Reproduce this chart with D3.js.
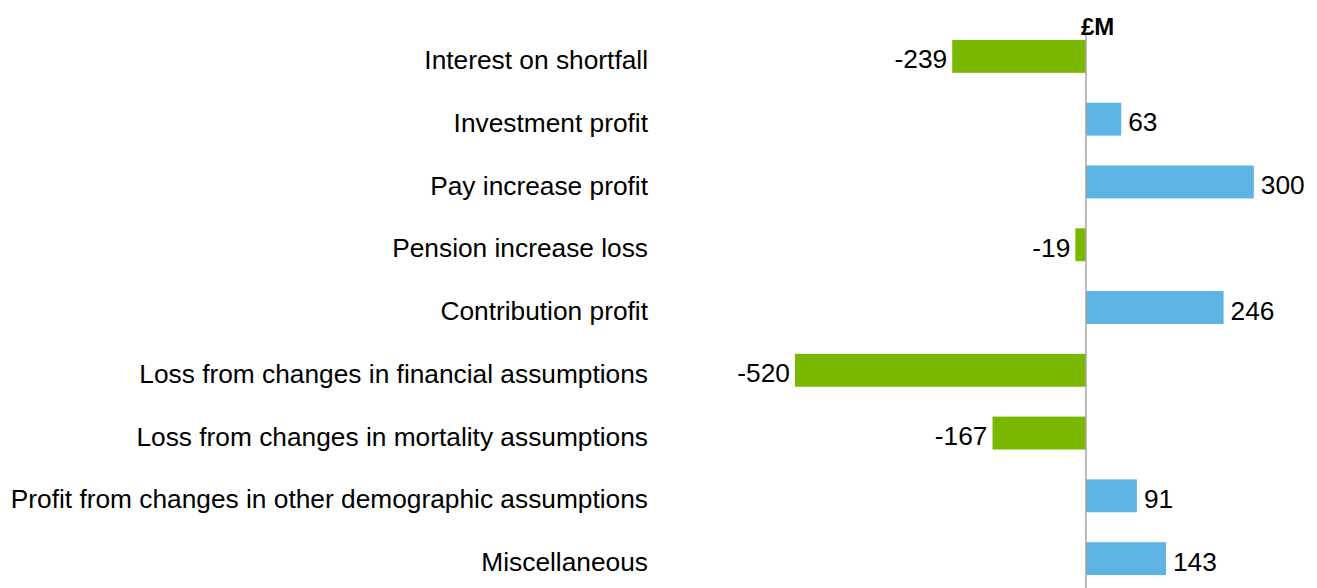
<!DOCTYPE html>
<html>
<head>
<meta charset="utf-8">
<script src="https://cdn.jsdelivr.net/npm/d3@7"></script>
<style>
  html, body { margin: 0; padding: 0; background: #fff; }
  svg { display: block; font-family: "Liberation Sans", Arial, sans-serif; }
</style>
</head>
<body>
<div id="chart"></div>
<script>
// ==== DATA ====
const CATEGORIES = [
  "Interest on shortfall",
  "Investment profit",
  "Pay increase profit",
  "Pension increase loss",
  "Contribution profit",
  "Loss from changes in financial assumptions",
  "Loss from changes in mortality assumptions",
  "Profit from changes in other demographic assumptions",
  "Miscellaneous"
];
const VALUES = [-239, 63, 300, -19, 246, -520, -167, 91, 143];
const UNIT_LABEL = "£M";

// ==== SIZE ====
const width = 1317;
const height = 588;

// ==== SCALES ====
const x = d3.scaleLinear().domain([-600, 400]).range([750.2, 1309.8]);
const y = d3.scaleBand().domain(CATEGORIES).range([25, 590]).paddingInner(0.476).paddingOuter(0.238);

const svg = d3.select("#chart")
  .append("svg")
  .attr("width", width)
  .attr("height", height);

const rows = CATEGORIES.map((c, i) => ({ name: c, value: VALUES[i] }));

// bars
svg.append("g").selectAll("rect")
  .data(rows)
  .enter()
  .append("rect")
  .attr("x", d => x(Math.min(0, d.value)))
  .attr("y", d => y(d.name))
  .attr("width", d => Math.abs(x(d.value) - x(0)))
  .attr("height", y.bandwidth())
  .attr("fill", d => d.value < 0 ? "#7ab800" : "#5db4e3");

// zero line
svg.append("line")
  .attr("x1", x(0)).attr("x2", x(0))
  .attr("y1", 34).attr("y2", height)
  .attr("stroke", "#a6a6a6")
  .attr("stroke-width", 1.5);

// unit label
svg.append("text")
  .attr("x", 1081)
  .attr("y", 35)
  .attr("text-anchor", "start")
  .attr("font-size", 24)
  .attr("font-weight", "bold")
  .attr("fill", "#000")
  .text(UNIT_LABEL);

// value labels
svg.append("g").selectAll("text")
  .data(rows)
  .enter()
  .append("text")
  .attr("x", d => d.value < 0 ? x(d.value) - 5 : x(d.value) + 7)
  .attr("y", d => y(d.name) + y.bandwidth() / 2)
  .attr("dy", "0.46em")
  .attr("text-anchor", d => d.value < 0 ? "end" : "start")
  .attr("font-size", 26.3)
  .attr("fill", "#000")
  .text(d => d.value);

// category labels
svg.append("g").selectAll("text")
  .data(rows)
  .enter()
  .append("text")
  .attr("x", 648)
  .attr("y", d => y(d.name) + y.bandwidth() / 2)
  .attr("dy", "0.48em")
  .attr("text-anchor", "end")
  .attr("font-size", 26.3)
  .attr("fill", "#000")
  .text(d => d.name);
</script>
</body>
</html>
